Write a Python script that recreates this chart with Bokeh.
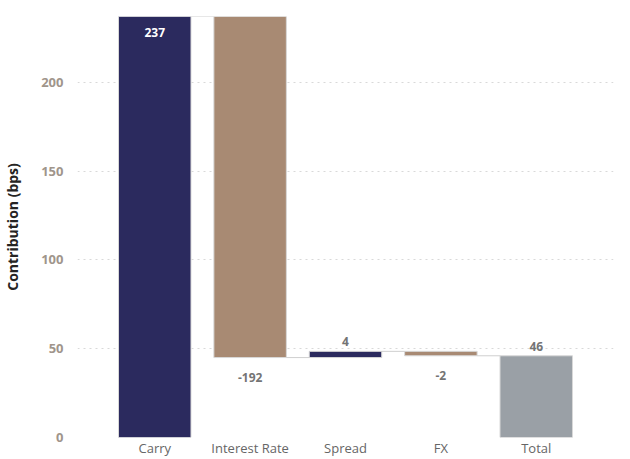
from bokeh.plotting import figure
from bokeh.models import FactorRange, Range1d, ColumnDataSource, FixedTicker
from bokeh.core.properties import value
from bokeh.embed import file_html
from bokeh.resources import INLINE

categories = ["Carry", "Interest Rate", "Spread", "FX", "Total"]
contributions = [237, -192, 3.5, -2.5]
total_value = 46
value_labels = ["237", "-192", "4", "-2", "46"]
y_ticks = [0, 50, 100, 150, 200]

NAVY = "#2B2A5E"
TAN = "#A88A73"
GREY = "#9AA0A6"

# waterfall geometry
bottoms, tops, colors = [], [], []
running = 0.0
for v in contributions:
    start = running
    running += v
    bottoms.append(min(start, running))
    tops.append(max(start, running))
    colors.append(NAVY if v >= 0 else TAN)
bottoms.append(0)
tops.append(total_value)
colors.append(GREY)

levels = []
running = 0.0
for v in contributions:
    running += v
    levels.append(running)

FONT = "Open Sans"

p = figure(
    x_range=FactorRange(factors=categories, range_padding=0.31, range_padding_units="absolute"),
    y_range=Range1d(0, 237),
    width=630, height=459,
    output_backend="svg", toolbar_location=None,
    min_border_top=16, min_border_right=17, min_border_bottom=0, min_border_left=0,
    outline_line_color=None,
)

src = ColumnDataSource(dict(x=categories, bottom=bottoms, top=tops, color=colors))
BW = 0.76
p.vbar(x="x", bottom="bottom", top="top", width=BW, fill_color="color",
       line_color="#d8d8d8", line_width=1, source=src)

# connectors
cx0, cx1, cy = [], [], []
for i, lv in enumerate(levels):
    cx0.append((categories[i], BW / 2))
    cx1.append((categories[i + 1], -BW / 2))
    cy.append(lv)
p.segment(x0=cx0, y0=cy, x1=cx1, y1=cy, line_color="#cfcfcf", line_width=1)

# labels
lx, ly, lt, lc, lb = [], [], [], [], []
for i, cat in enumerate(categories):
    if i == 0:
        lx.append(cat); ly.append(tops[i]); lt.append(value_labels[i]); lc.append("white"); lb.append("top_inner")
    elif i < len(contributions) and contributions[i] < 0:
        lx.append(cat); ly.append(bottoms[i]); lt.append(value_labels[i]); lc.append("#747474"); lb.append("below")
    else:
        lx.append(cat); ly.append(tops[i]); lt.append(value_labels[i]); lc.append("#747474"); lb.append("above")

def add_labels(kind, baseline, yoff, style):
    idx = [k for k in range(len(lx)) if lb[k] == kind]
    if not idx:
        return
    p.text(x=[lx[k] for k in idx], y=[ly[k] for k in idx], text=[lt[k] for k in idx],
           text_color=[lc[k] for k in idx], text_align="center", text_baseline=baseline,
           y_offset=yoff, text_font=value(FONT), text_font_size="12px",
           text_font_style=style)

add_labels("top_inner", "top", 11, "bold")
add_labels("below", "top", 15, "bold")
add_labels("above", "bottom", -5, "bold")

p.xgrid.grid_line_color = None
p.ygrid.grid_line_color = "#d9d9d9"
p.ygrid.grid_line_dash = "2 4"
p.ygrid.grid_line_width = 1
p.ygrid.level = "underlay"

p.yaxis.ticker = FixedTicker(ticks=y_ticks)
p.yaxis.axis_line_color = None
p.yaxis.major_tick_line_color = None
p.yaxis.minor_tick_line_color = None
p.yaxis.major_tick_out = 0
p.yaxis.major_tick_in = 0
p.yaxis.minor_tick_out = 0
p.yaxis.major_label_text_color = "#a0958b"
p.yaxis.major_label_text_font = FONT
p.yaxis.major_label_text_font_style = "bold"
p.yaxis.major_label_text_font_size = "13px"
p.yaxis.major_label_standoff = 14
p.yaxis.axis_label = "Contribution (bps)"
p.yaxis.axis_label_text_font = FONT
p.yaxis.axis_label_text_font_style = "bold"
p.yaxis.axis_label_text_font_size = "14px"
p.yaxis.axis_label_text_color = "#252423"
p.yaxis.axis_label_standoff = 16

p.xaxis.axis_line_color = None
p.xaxis.major_tick_line_color = None
p.xaxis.minor_tick_line_color = None
p.xaxis.major_tick_out = 0
p.xaxis.major_tick_in = 0
p.xaxis.minor_tick_out = 0
p.xaxis.major_label_text_color = "#666666"
p.xaxis.major_label_text_font = FONT
p.xaxis.major_label_text_font_size = "13px"
p.xaxis.major_label_standoff = 1

open("out.html", "w").write(file_html(p, INLINE))
